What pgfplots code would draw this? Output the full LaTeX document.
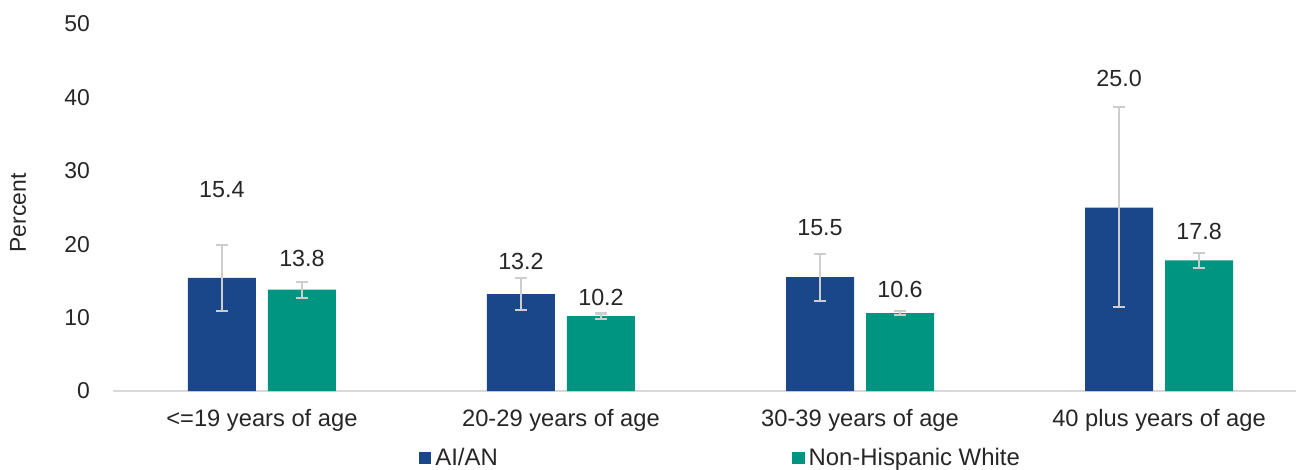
\documentclass[border=0pt]{standalone}
\usepackage{fontspec}
\setmainfont{Liberation Sans}
\usepackage{pgfplots}
\pgfplotsset{compat=1.18}
\definecolor{aian}{RGB}{26,71,137}
\definecolor{nhw}{RGB}{0,149,128}
\definecolor{txt}{RGB}{38,38,38}
\definecolor{errc}{RGB}{205,205,205}
\definecolor{axc}{RGB}{217,217,217}
\begin{document}
\begin{tikzpicture}
\useasboundingbox (0,0) rectangle (648bp,235bp);
\begin{axis}[
  at={(56.5bp,39.5bp)}, anchor=south west,
  scale only axis, width=591.5bp, height=183.5bp,
  xmin=-0.498, xmax=3.458, ymin=0, ymax=50,
  clip=false,
  ybar, bar width=34bp,
  axis x line*=bottom, axis y line*=left,
  x axis line style={draw=axc, line width=0.8bp, -},
  y axis line style={draw=none},
  ytick={0,10,...,50},
  xtick={0,1,2,3},
  xticklabels={{<=19 years of age},{20-29 years of age},{30-39 years of age},{40 plus years of age}},
  major tick length=0pt,
  tick label style={font=\fontsize{11.5}{13}\selectfont, text=txt},
  xticklabel style={font=\fontsize{11.9}{13}\selectfont},
  /pgf/number format/assume math mode=true,
  yticklabel style={anchor=east, xshift=-8bp},
  xticklabel style={anchor=center, yshift=-14.5bp},
  legend columns=2,
  legend style={draw=none, fill=none, inner sep=0pt, at={(axis description cs:0.258,0)}, anchor=west, yshift=-33.5bp,
    font=\fontsize{12}{13}\selectfont, text=txt,
    /tikz/every even column/.append style={column sep=145bp}},
  legend image code/.code={\fill[#1] (0bp,-3.2bp) rectangle (6.4bp,3.2bp);},
]
\addplot[bar shift=-20bp, fill=aian, draw=none,
  error bars/.cd, y dir=both, y explicit,
  error bar style={draw=errc, line width=1.1bp},
  error mark options={draw=errc, line width=1.1bp, rotate=90, mark size=3bp}]
  table[x=x, y=y, y error plus=ep, y error minus=em] {
x y ep em
0 15.4 4.5 4.5
1 13.2 2.2 2.2
2 15.5 3.2 3.2
3 25.0 13.7 13.6
};
\addlegendentry{AI/AN}
\addplot[bar shift=20bp, fill=nhw, draw=none,
  error bars/.cd, y dir=both, y explicit,
  error bar style={draw=errc, line width=1.1bp},
  error mark options={draw=errc, line width=1.1bp, rotate=90, mark size=3bp}]
  table[x=x, y=y, y error plus=ep, y error minus=em] {
x y ep em
0 13.8 1.1 1.1
1 10.2 0.35 0.35
2 10.6 0.25 0.25
3 17.8 1.0 1.0
};
\addlegendentry{Non-Hispanic White}
\addplot[forget plot, bar shift=0pt, only marks, mark=none, nodes near coords, point meta=explicit symbolic,
  nodes near coords style={anchor=center, font=\fontsize{11.7}{13}\selectfont, text=txt}]
  table[x=x, y=y, meta=lab] {
x y lab
-0.1338 27.4 15.4
0.1338 18.1 13.8
0.8662 17.6 13.2
1.1338 12.7 10.2
1.8662 22.2 15.5
2.1338 13.8 10.6
2.8662 42.6 25.0
3.1338 21.7 17.8
};
\end{axis}
\node[rotate=90, font=\fontsize{11.5}{13}\selectfont, text=txt] at (9bp,128.5bp) {Percent};
\end{tikzpicture}
\end{document}
